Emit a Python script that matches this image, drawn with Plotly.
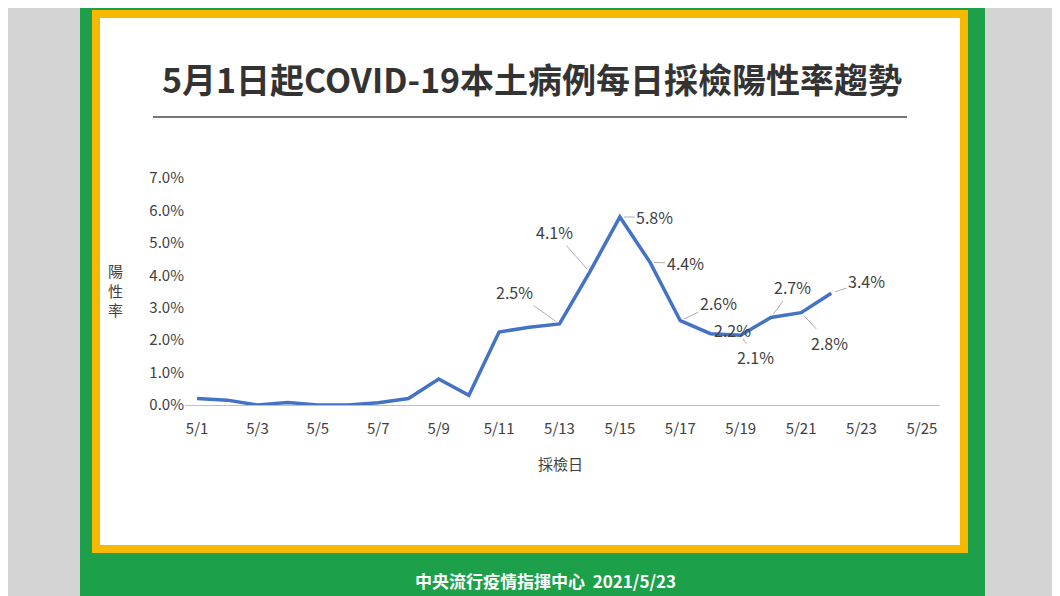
import plotly.graph_objects as go

days = list(range(1, 23))
rates = [0.2, 0.15, 0.0, 0.08, 0.0, 0.0, 0.07, 0.2, 0.8, 0.3, 2.25, 2.4, 2.5,
         4.1, 5.8, 4.4, 2.6, 2.2, 2.15, 2.7, 2.85, 3.45]
tick_days = list(range(1, 26, 2))
tick_text = [f"5/{d}" for d in tick_days]
yticks = [0, 1, 2, 3, 4, 5, 6, 7]
# labelled points: day, text, pixel offset of label from point
labels = [(13, "2.5%", -45, -32), (14, "4.1%", -35, -40), (15, "5.8%", 35, 0),
          (16, "4.4%", 35, 1), (17, "2.6%", 38, -18), (18, "2.2%", 22, -4),
          (19, "2.1%", 15, 22), (20, "2.7%", 22, -30), (21, "2.8%", 28, 30),
          (22, "3.4%", 35, -12)]

OFF = 8  # page body margin
fig = go.Figure()
fig.add_trace(go.Scatter(x=days, y=rates, mode="lines",
                         line=dict(color="#4472c4", width=3.5), showlegend=False))

for d, t, ax, ay in labels:
    fig.add_annotation(x=d, y=rates[d - 1], text=t, ax=ax, ay=ay, showarrow=True,
                       arrowhead=0, arrowwidth=0.8, arrowcolor="#999", standoff=4,
                       font=dict(size=16, color="#404040"))

L, T, PW, PH = 185 - OFF, 170 - OFF, 755, 235
def px(x):
    return (x - OFF - L) / PW
def py(y):
    return (T + PH - (y - OFF)) / PH

def rect(x0, y0, x1, y1, color):
    fig.add_shape(type="rect", xref="paper", yref="paper", layer="below",
                  x0=px(x0), x1=px(x1), y0=py(y1), y1=py(y0),
                  fillcolor=color, line_width=0)

rect(0, 0, 1080, 620, "#d4d4d4")
rect(80, 0, 985, 620, "#1ca14a")
rect(92, 10, 968, 553, "#f7b900")
rect(100, 18, 960, 545, "white")
fig.add_shape(type="line", xref="paper", yref="paper",
              x0=px(153), x1=px(907), y0=py(117), y1=py(117),
              line=dict(color="#777", width=2))

def text(x, y, t, size, color="#404040", bold=False):
    fig.add_annotation(xref="paper", yref="paper", x=px(x), y=py(y),
                       xanchor="center", yanchor="middle",
                       text=f"<b>{t}</b>" if bold else t, showarrow=False,
                       font=dict(size=size, color=color))

text(532, 78, "5月1日起COVID-19本土病例每日採檢陽性率趨勢", 34, "#333", True)
text(115, 290, "陽<br>性<br>率", 15)
text(560, 463, "採檢日", 15)
text(545, 580, "中央流行疫情指揮中心  2021/5/23", 17, "white", True)

fig.update_layout(
    width=1060, height=596, margin=dict(l=L, r=1060 - L - PW, t=T, b=596 - T - PH),
    paper_bgcolor="#d4d4d4", plot_bgcolor="rgba(0,0,0,0)",
    font=dict(family="Noto Sans CJK TC, sans-serif", color="#404040"),
    xaxis=dict(range=[0.6, 25.6], tickvals=tick_days, ticktext=tick_text,
               showgrid=False, zeroline=False, showline=True, linecolor="#bfbfbf",
               ticks="", tickfont=dict(size=15), ticklabelstandoff=10),
    yaxis=dict(range=[0, 7.25], tickvals=yticks, ticktext=[f"{v:.1f}%" for v in yticks],
               showgrid=False, zeroline=False, tickfont=dict(size=15), ticks=""),
)
fig.write_html("out.html")
